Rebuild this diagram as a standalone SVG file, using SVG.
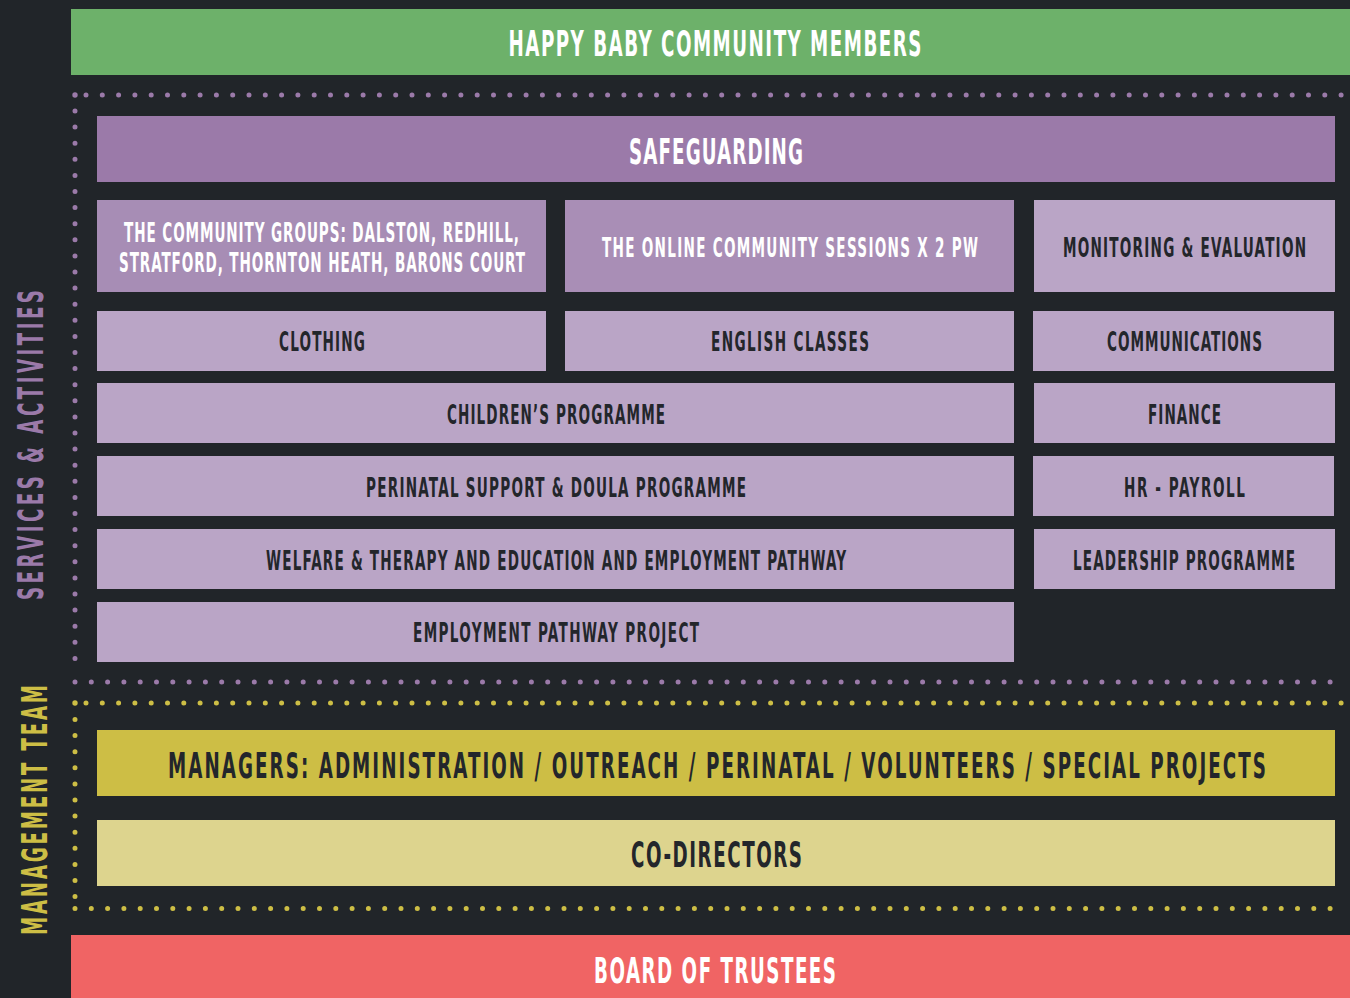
<svg xmlns="http://www.w3.org/2000/svg" width="1350" height="998" viewBox="0 0 1350 998">
<style>
.t{font-family:"Liberation Sans Narrow","DejaVu Sans Condensed","Liberation Sans",sans-serif;font-weight:bold;text-anchor:middle}
.w{fill:#ffffff}
.d{fill:#23262b}
.s{font-size:26px}
.l{font-size:35px}
.dp{stroke:#9b7aa9;stroke-width:5;stroke-linecap:round;fill:none}
.dy{stroke:#cdbe45;stroke-width:5;stroke-linecap:round;fill:none}
.lav{fill:#baa5c6}
</style>
<rect width="1350" height="998" fill="#212529"/>
<g id="frames">
<circle cx="75" cy="95" r="2.7" fill="#9b7aa9"/>
<line class="dp" x1="86" y1="95" x2="1345" y2="95" stroke-dasharray="0 16.3"/>
<line class="dp" x1="75" y1="111" x2="75" y2="665" stroke-dasharray="0 16.1"/>
<line class="dp" x1="75" y1="682" x2="1345" y2="682" stroke-dasharray="0 16.3"/>
<circle cx="75" cy="703" r="2.7" fill="#cdbe45"/>
<line class="dy" x1="86" y1="703" x2="1345" y2="703" stroke-dasharray="0 16.3"/>
<line class="dy" x1="75" y1="719.5" x2="75" y2="900" stroke-dasharray="0 16.1"/>
<line class="dy" x1="75" y1="908.5" x2="1345" y2="908.5" stroke-dasharray="0 16.3"/>
</g>
<g id="members"><rect x="71" y="9" width="1279" height="66" fill="#6db16a"/><text class="t w l" transform="translate(715,56) scale(0.58,1)" textLength="712.1" lengthAdjust="spacing">HAPPY BABY COMMUNITY MEMBERS</text></g>
<g id="safeguarding"><rect x="97" y="116" width="1238" height="66" fill="#9b7aa9"/><text class="t w l" transform="translate(716,164) scale(0.58,1)" textLength="300" lengthAdjust="spacing">SAFEGUARDING</text></g>
<g id="community-groups"><rect x="97" y="200" width="449" height="92" fill="#a78db5"/><text class="t w s" transform="translate(321.5,242) scale(0.58,1)" textLength="681" lengthAdjust="spacing">THE COMMUNITY GROUPS: DALSTON, REDHILL,</text><text class="t w s" transform="translate(322,272) scale(0.58,1)" textLength="700" lengthAdjust="spacing">STRATFORD, THORNTON HEATH, BARONS COURT</text></g>
<g id="online"><rect x="565" y="200" width="449" height="92" fill="#a98eb6"/><text class="t w s" transform="translate(790,257) scale(0.58,1)" textLength="648.3" lengthAdjust="spacing">THE ONLINE COMMUNITY SESSIONS X 2 PW</text></g>
<g id="monitoring"><rect x="1034" y="200" width="301" height="92" class="lav"/><text class="t d s" transform="translate(1184.5,257) scale(0.58,1)" textLength="419" lengthAdjust="spacing">MONITORING &amp; EVALUATION</text></g>
<g id="clothing"><rect x="97" y="311" width="449" height="60" class="lav"/><text class="t d s" transform="translate(322,351) scale(0.58,1)" textLength="148.3" lengthAdjust="spacing">CLOTHING</text></g>
<g id="english"><rect x="565" y="311" width="449" height="60" class="lav"/><text class="t d s" transform="translate(790,351) scale(0.58,1)" textLength="272.4" lengthAdjust="spacing">ENGLISH CLASSES</text></g>
<g id="communications"><rect x="1033" y="311" width="301" height="60" class="lav"/><text class="t d s" transform="translate(1184.5,351) scale(0.58,1)" textLength="267.2" lengthAdjust="spacing">COMMUNICATIONS</text></g>
<g id="childrens"><rect x="97" y="383" width="917" height="60" class="lav"/><text class="t d s" transform="translate(556,424) scale(0.58,1)" textLength="375.9" lengthAdjust="spacing">CHILDREN’S PROGRAMME</text></g>
<g id="finance"><rect x="1034" y="383" width="301" height="60" class="lav"/><text class="t d s" transform="translate(1184.5,424) scale(0.58,1)" textLength="125.9" lengthAdjust="spacing">FINANCE</text></g>
<g id="perinatal"><rect x="97" y="456" width="917" height="60" class="lav"/><text class="t d s" transform="translate(556,497) scale(0.58,1)" textLength="655.2" lengthAdjust="spacing">PERINATAL SUPPORT &amp; DOULA PROGRAMME</text></g>
<g id="hr"><rect x="1033" y="456" width="301" height="60" class="lav"/><text class="t d s" transform="translate(1184.5,497) scale(0.58,1)" textLength="208.6" lengthAdjust="spacing">HR - PAYROLL</text></g>
<g id="welfare"><rect x="97" y="529" width="917" height="60" class="lav"/><text class="t d s" transform="translate(556,570) scale(0.58,1)" textLength="1000" lengthAdjust="spacing">WELFARE &amp; THERAPY AND EDUCATION AND EMPLOYMENT PATHWAY</text></g>
<g id="leadership"><rect x="1034" y="529" width="301" height="60" class="lav"/><text class="t d s" transform="translate(1184,570) scale(0.58,1)" textLength="382.8" lengthAdjust="spacing">LEADERSHIP PROGRAMME</text></g>
<g id="employment"><rect x="97" y="602" width="917" height="60" class="lav"/><text class="t d s" transform="translate(556,642) scale(0.58,1)" textLength="493.1" lengthAdjust="spacing">EMPLOYMENT PATHWAY PROJECT</text></g>
<g id="managers"><rect x="97" y="730" width="1238" height="66" fill="#cdbe45"/><text class="t d l" transform="translate(717,778) scale(0.58,1)" textLength="1893.1" lengthAdjust="spacing">MANAGERS: ADMINISTRATION / OUTREACH / PERINATAL / VOLUNTEERS / SPECIAL PROJECTS</text></g>
<g id="codirectors"><rect x="97" y="820" width="1238" height="66" fill="#ddd48e"/><text class="t d l" transform="translate(716.5,867) scale(0.58,1)" textLength="294.8" lengthAdjust="spacing">CO-DIRECTORS</text></g>
<g id="board"><rect x="71" y="935" width="1279" height="63" fill="#f06464"/><text class="t w l" transform="translate(715,983) scale(0.58,1)" textLength="417.2" lengthAdjust="spacing">BOARD OF TRUSTEES</text></g>
<g id="side-labels">
<text class="t l" fill="#9b7aa9" transform="translate(43,445) rotate(-90) scale(0.58,1)" textLength="534.5" lengthAdjust="spacing">SERVICES &amp; ACTIVITIES</text>
<text class="t l" fill="#cdbe45" transform="translate(47,810) rotate(-90) scale(0.58,1)" textLength="431" lengthAdjust="spacing">MANAGEMENT TEAM</text>
</g>
</svg>
